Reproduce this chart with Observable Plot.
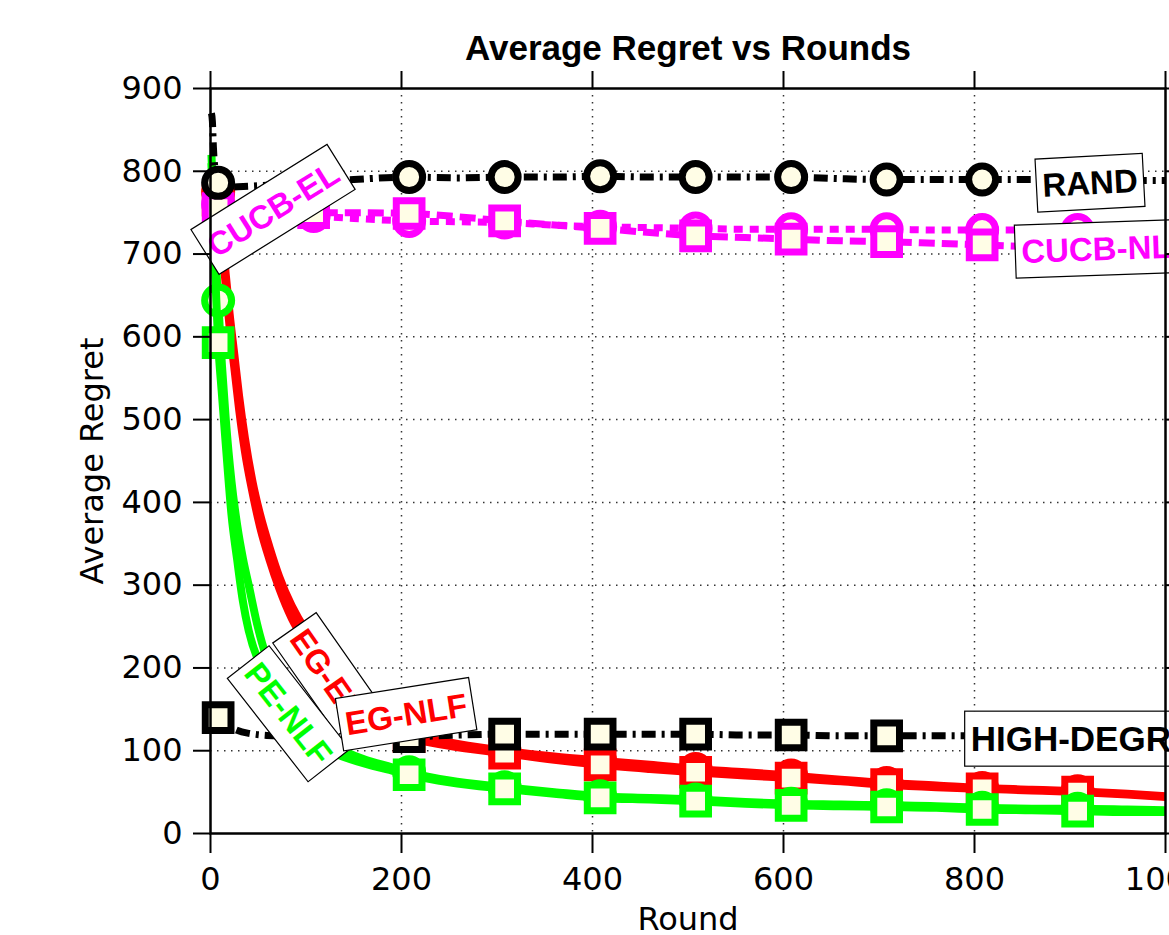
<!DOCTYPE html>
<html>
<head>
<meta charset="utf-8">
<script src="https://cdn.jsdelivr.net/npm/d3@7"></script>
<script src="https://cdn.jsdelivr.net/npm/@observablehq/plot@0.6"></script>
<style>
  html, body { margin: 0; padding: 0; background: #fff; overflow: hidden; }
  #chart svg { display: block; overflow: hidden; }
</style>
</head>
<body>
<div id="chart"></div>
<script>
// ---------------- DATA ----------------
const xTickValues = [0, 200, 400, 600, 800, 1000];
const yTickValues = [0, 100, 200, 300, 400, 500, 600, 700, 800, 900];
const gridXValues = [200, 400, 600, 800];
const gridYValues = [100, 200, 300, 400, 500, 600, 700, 800];
const markerRounds = [8, 108, 208, 308, 408, 508, 608, 708, 808, 908];

const randRounds = [1, 2, 3, 5, 8, 20, 40, 70, 108, 150, 208, 260, 308, 360, 408, 460, 508, 560, 608, 660, 708, 760, 808, 860, 908, 960, 1000];
const randValues = [870, 860, 830, 800, 786, 781, 782, 784, 787, 790, 793, 792, 793, 793, 794, 793, 793, 793, 793, 791, 790, 790, 790, 790, 790, 789, 789];

const hdRounds = [1, 8, 15, 25, 40, 70, 108, 150, 208, 260, 308, 360, 408, 460, 508, 560, 608, 660, 708, 760, 808, 860, 908, 960, 1000];
const hdValues = [142, 140, 133, 126, 121, 118, 117, 117, 117, 119, 120, 120, 120, 120, 120, 119, 119, 118, 118, 118, 118, 118, 118, 118, 118];

const cucbRounds = [1, 3, 8, 20, 50, 108, 150, 208, 260, 308, 360, 408, 460, 508, 560, 608, 660, 708, 760, 808, 860, 908, 960, 1000];
const cucbElValues = [770, 765, 760, 755, 750, 746, 743, 740, 739, 738, 735, 733, 732, 731, 730, 730, 730, 730, 729, 729, 729, 729, 728, 728];
const cucbNlfValues = [765, 760, 755, 752, 750, 750, 750, 749, 745, 740, 735, 731, 726, 722, 720, 718, 716, 715, 713, 711, 709, 708, 706, 705];

const egRounds = [1, 4, 8, 12, 16, 20, 25, 30, 36, 44, 52, 62, 72, 85, 100, 108, 120, 150, 180, 208, 250, 308, 360, 408, 460, 508, 560, 608, 660, 708, 760, 808, 860, 908, 960, 1000];
const egElValues = [800, 795, 775, 725, 675, 628, 578, 528, 478, 425, 385, 345, 310, 275, 245, 232, 212, 175, 145, 122, 110, 100, 93, 88, 83, 78, 74, 70, 65, 61, 58, 55, 53, 51, 48, 45];
const egNlfValues = [800, 790, 765, 712, 662, 612, 562, 512, 462, 412, 370, 330, 296, 260, 231, 218, 198, 164, 138, 117, 106, 97, 89, 83, 78, 74, 70, 67, 63, 59, 56, 54, 52, 50, 47, 44];

const peRounds = [1, 4, 8, 12, 16, 22, 28, 34, 40, 49, 54, 60, 70, 80, 90, 100, 108, 130, 160, 190, 208, 250, 308, 360, 408, 460, 508, 560, 608, 660, 708, 760, 808, 860, 908, 960, 1000];
const peElValues = [820, 730, 644, 565, 500, 425, 372, 332, 300, 252, 230, 208, 182, 163, 147, 135, 126, 106, 90, 80, 74, 64, 56, 50, 45, 43, 41, 38, 36, 35, 34, 33, 31, 30, 30, 29, 28];
const peNlfValues = [810, 700, 593, 530, 470, 385, 330, 280, 245, 212, 200, 187, 165, 148, 132, 120, 113, 97, 85, 76, 71, 62, 54, 48, 43, 41, 39, 36, 34, 33, 32, 31, 29, 28, 27, 26, 26];

// in-plot labels (centre-anchored)
const labelText = ["CUCB-EL", "RAND", "EG-EL", "PE-NLF", "EG-NLF"];
const labelX = [66, 921, 121, 81, 205];
const labelY = [753, 785, 192, 144, 143];
const labelAngle = [-32, -3, 55, 52, -9];
const labelColor = ["#ff00ff", "#000000", "#ff0000", "#00ff00", "#ff0000"];
// in-plot labels (start-anchored, clipped on the right)
const label2Text = ["CUCB-NLF", "HIGH-DEGREE"];
const label2X = [849, 796];
const label2Y = [702, 113];
const label2Angle = [-2, 0];
const label2Color = ["#ff00ff", "#000000"];
const label2Size = [33, 35];

// ---------------- STYLES ----------------
const cream = "#fffde6";
const seriesDefs = [
  {rounds: egRounds,   values: egElValues,   color: "#ff0000", dash: null,       symbol: "circle"},
  {rounds: egRounds,   values: egNlfValues,  color: "#ff0000", dash: null,       symbol: "square"},
  {rounds: peRounds,   values: peElValues,   color: "#00ff00", dash: null,       symbol: "circle"},
  {rounds: peRounds,   values: peNlfValues,  color: "#00ff00", dash: null,       symbol: "square"},
  {rounds: cucbRounds, values: cucbElValues, color: "#ff00ff", dash: "9,7",      symbol: "circle"},
  {rounds: cucbRounds, values: cucbNlfValues,color: "#ff00ff", dash: "16,7",     symbol: "square"},
  {rounds: randRounds, values: randValues,   color: "#000000", dash: "14,6,3,6", symbol: "circle"},
  {rounds: hdRounds,   values: hdValues,     color: "#000000", dash: "14,6,3,6", symbol: "square"}
];

const seriesMarks = [];
for (const s of seriesDefs) {
  const rows = s.rounds.map((r, i) => ({round: r, value: s.values[i]}));
  seriesMarks.push(Plot.line(rows, {
    x: "round", y: "value", stroke: s.color, strokeWidth: s.dash ? 7 : 8,
    strokeDasharray: s.dash, strokeLinecap: "butt", strokeLinejoin: "round", curve: "monotone-x"
  }));
  seriesMarks.push(Plot.dot(rows.filter(d => markerRounds.includes(d.round)), {
    x: "round", y: "value", symbol: s.symbol, r: s.symbol === "square" ? 14.5 : 13.5,
    stroke: s.color, strokeWidth: 7, fill: cream
  }));
}

const labels1 = labelText.map((t, i) => ({t, x: labelX[i], y: labelY[i], a: labelAngle[i], c: labelColor[i]}));
const labelMarks2 = label2Text.map((t, i) => Plot.text([{t, x: label2X[i], y: label2Y[i], a: label2Angle[i], c: label2Color[i]}], {
  x: "x", y: "y", text: "t", rotate: "a", fill: "c", textAnchor: "start",
  fontFamily: "Liberation Sans", fontSize: label2Size[i], fontWeight: "bold"
}));

const svg = Plot.plot({
  width: 1169,
  height: 935,
  marginLeft: 210,
  marginRight: 4,
  marginTop: 88,
  marginBottom: 102,
  style: {fontFamily: "DejaVu Sans", fontSize: "32px", background: "#fff", color: "#000"},
  x: {domain: [0, 1000], axis: null},
  y: {domain: [0, 900], axis: null},
  marks: [
    Plot.gridX(gridXValues, {stroke: "#000", strokeOpacity: 0.8, strokeWidth: 1.5, strokeDasharray: "1.5,5.5"}),
    Plot.gridY(gridYValues, {stroke: "#000", strokeOpacity: 0.8, strokeWidth: 1.5, strokeDasharray: "1.5,5.5"}),
    ...seriesMarks,
    Plot.text(labels1, {x: "x", y: "y", text: "t", rotate: "a", fill: "c", textAnchor: "middle",
      fontFamily: "Liberation Sans", fontSize: 33, fontWeight: "bold"}),
    ...labelMarks2,
    Plot.axisX(xTickValues, {anchor: "bottom", tickSize: 20, tickPadding: 14, strokeWidth: 2, label: null, tickFormat: d => String(d)}),
    Plot.axisX(xTickValues, {anchor: "top", tickSize: 18, strokeWidth: 2, label: null, tickFormat: () => ""}),
    Plot.axisY(yTickValues, {anchor: "left", tickSize: 17, tickPadding: 11, strokeWidth: 2, label: null, tickFormat: d => String(d)}),
    Plot.axisY(yTickValues, {anchor: "right", tickSize: 17, strokeWidth: 2, label: null, tickFormat: () => ""}),
    Plot.frame({stroke: "#000", strokeWidth: 2.5}),
    Plot.text(["Average Regret vs Rounds"], {frameAnchor: "top", lineAnchor: "middle", dy: -40, fontFamily: "Liberation Sans", fontSize: 35, fontWeight: "bold"}),
    Plot.text(["Average Regret"], {frameAnchor: "left", textAnchor: "middle", lineAnchor: "middle", rotate: -90, dx: -118, fontSize: 32}),
    Plot.text(["Round"], {frameAnchor: "bottom", lineAnchor: "middle", dy: 86, fontSize: 32})
  ]
});

document.getElementById("chart").append(svg);

// white boxes with thin black borders behind the in-plot labels
const NS = "http://www.w3.org/2000/svg";
const allLabels = new Set([...labelText, ...label2Text]);
Array.from(svg.querySelectorAll("text")).forEach(t => {
  if (!allLabels.has(t.textContent.trim())) return;
  let b;
  try { b = t.getBBox(); } catch (e) { return; }
  const padX = 6, padY = 8;
  const r = document.createElementNS(NS, "rect");
  r.setAttribute("x", b.x - padX);
  r.setAttribute("y", b.y - padY);
  r.setAttribute("width", b.width + 2 * padX);
  r.setAttribute("height", b.height + 2 * padY);
  const tr = t.getAttribute("transform");
  if (tr) r.setAttribute("transform", tr);
  r.setAttribute("fill", "#ffffff");
  r.setAttribute("stroke", "#000000");
  r.setAttribute("stroke-width", "1.2");
  t.parentNode.insertBefore(r, t);
});
</script>
</body>
</html>
